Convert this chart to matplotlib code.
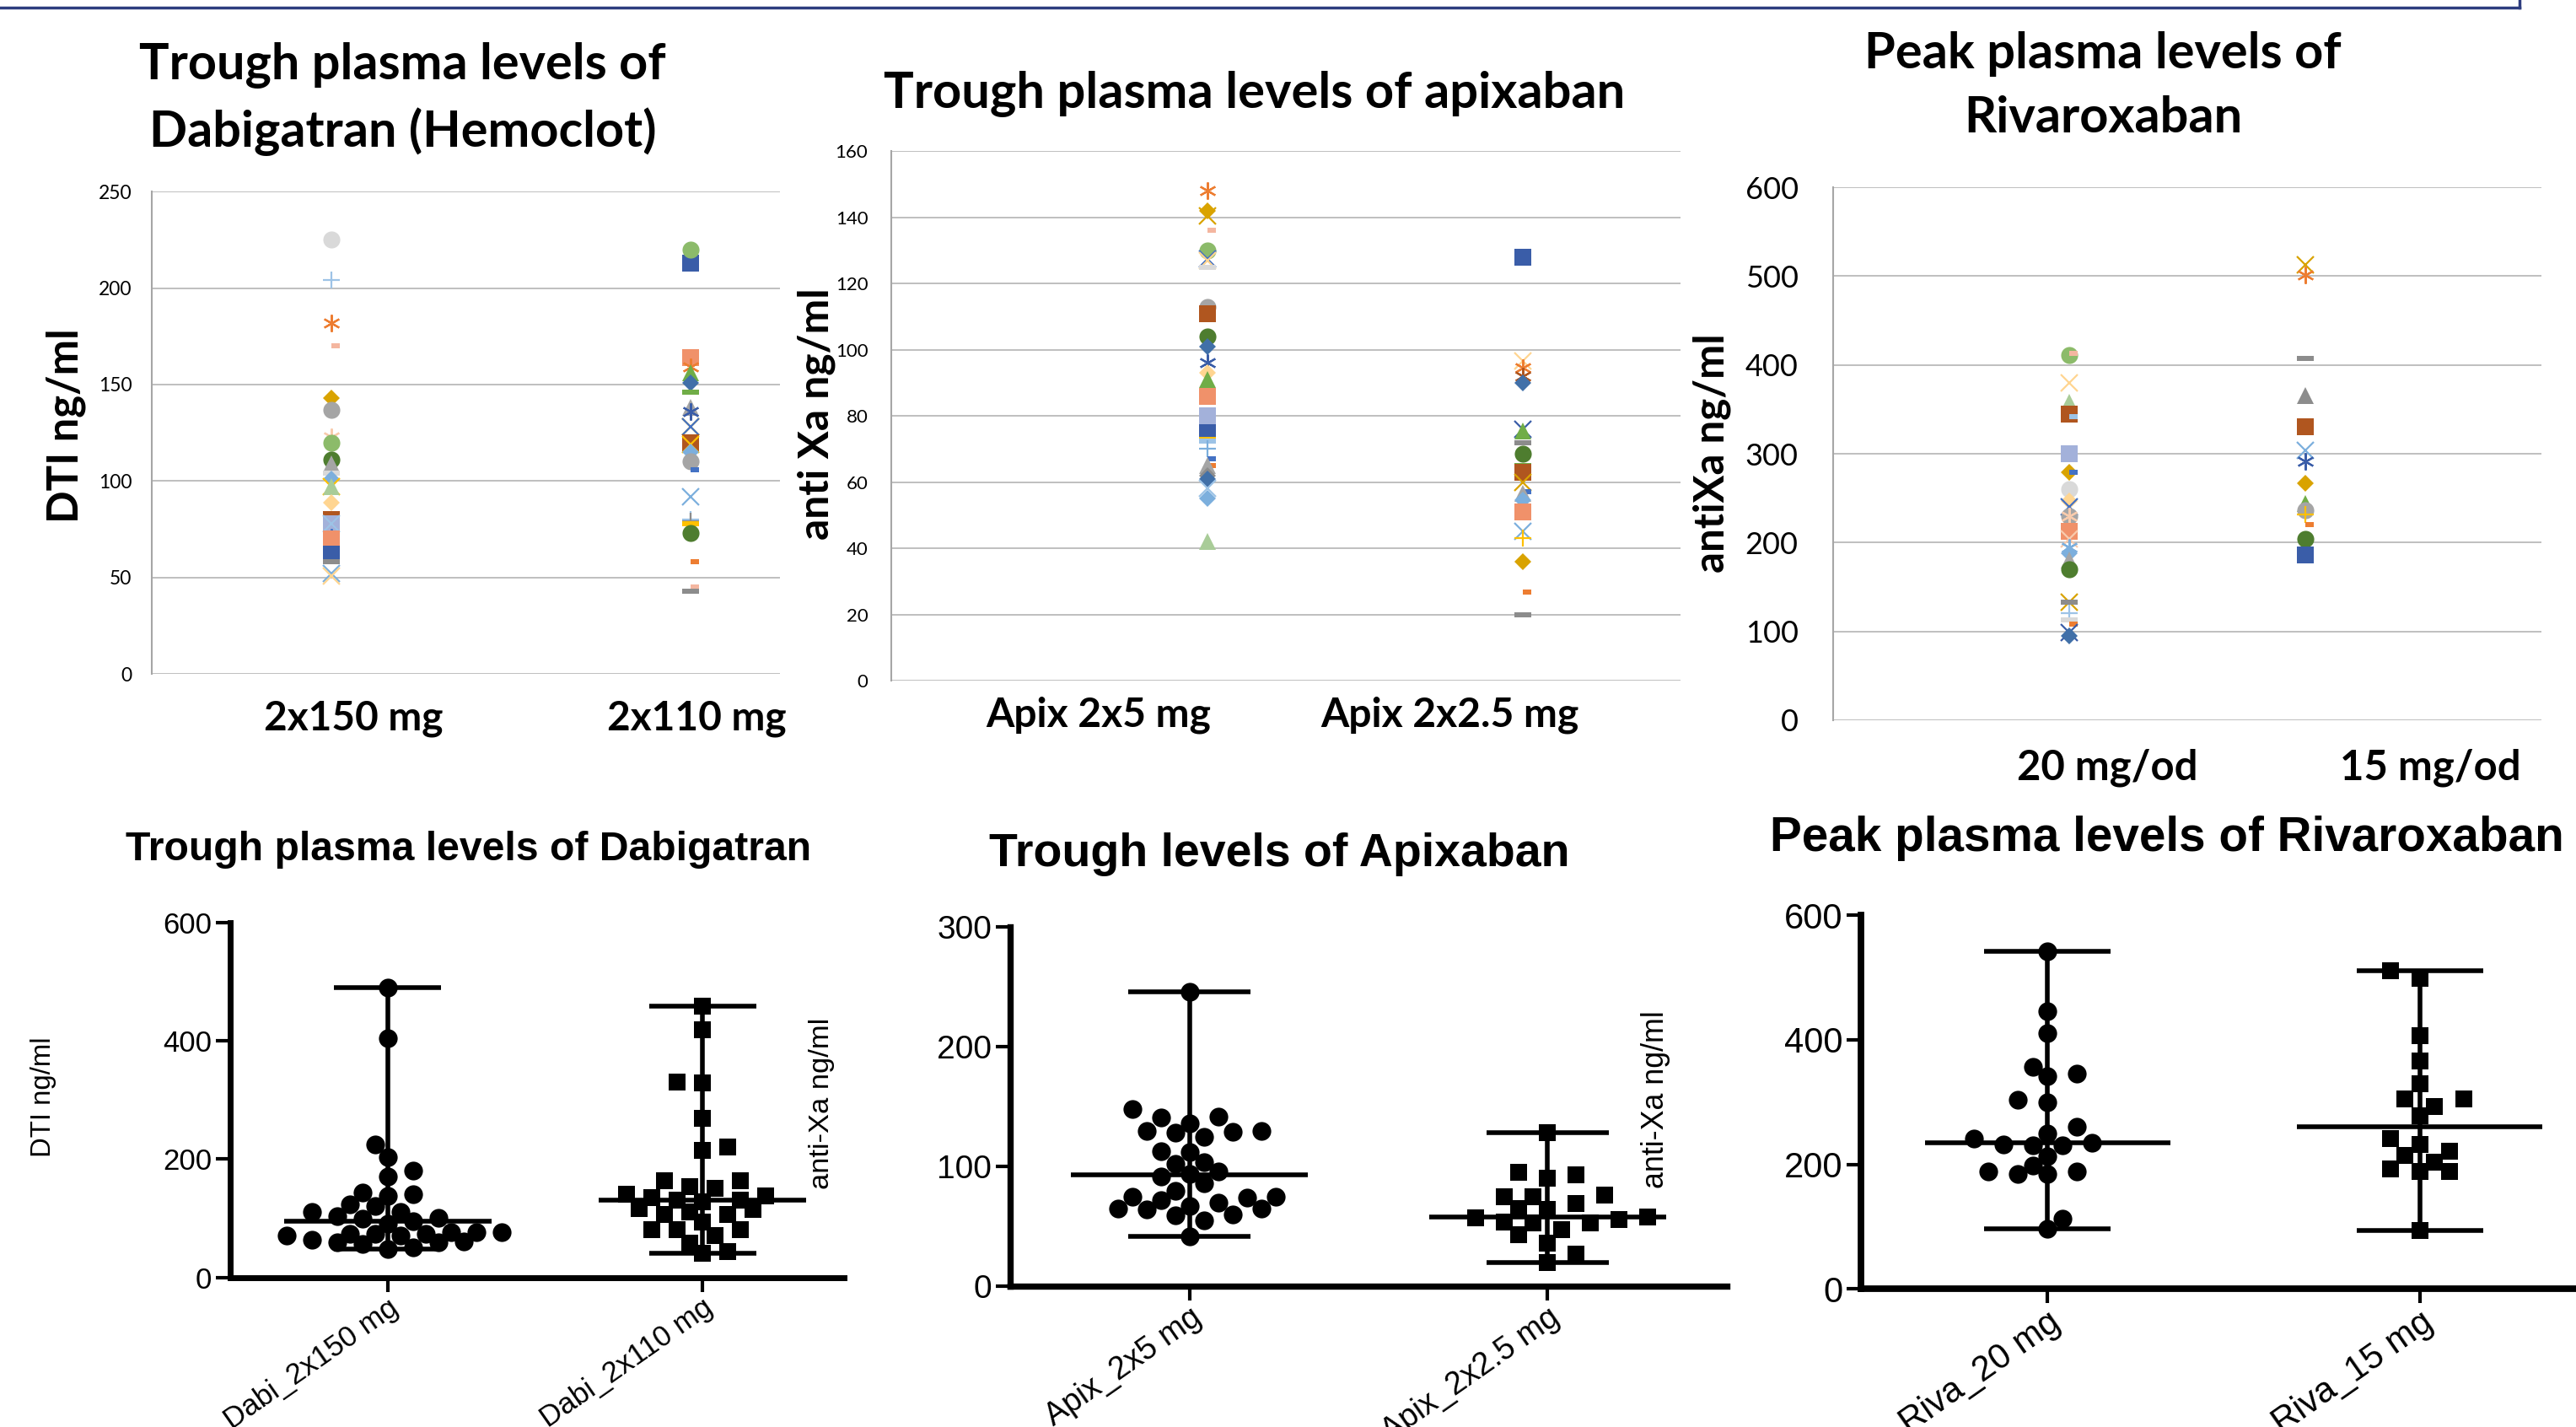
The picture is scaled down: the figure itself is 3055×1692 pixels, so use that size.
import matplotlib
matplotlib.use("Agg")
import matplotlib.pyplot as plt
import numpy as np
from matplotlib.lines import Line2D

# layout grid of the reference (the saved figure is 3055 x 1692 px)
W, H = 1568, 868
SCALE = 3055 / W

# ---- top row: per-patient values (Excel scatter) ----
dabi150_excel = [225, 204, 182, 170, 143, 137, 123, 120, 111, 109, 104, 101, 97, 97, 89, 83, 78, 78, 71, 70, 62, 58, 52, 51]
dabi110_excel = [213, 220, 164, 159, 156, 151, 146, 138, 136, 128, 128, 120, 119, 115, 110, 106, 92, 80, 79, 78, 73, 58, 45, 43]
apix5_excel = [148, 142, 140.5, 136, 130, 127.5, 127, 125, 113, 111, 104, 101, 96, 93, 91, 86, 80, 75, 73, 72.5,
               70, 67, 65, 65, 62, 61, 58, 55, 42]
apix25_excel = [128, 96.6, 94.5, 92, 90, 76, 75.5, 72, 68.7, 65, 63, 60, 57, 56.5, 54.6, 51, 45, 43, 36, 26.8, 20]
riva20_excel = [411, 413, 380, 358, 345, 342, 300, 279, 279, 260, 247, 240, 230, 230, 213, 204, 195, 188, 180, 170,
                133, 133, 120, 113, 108, 99, 95]
riva15_excel = [513, 501, 407, 366, 330, 304, 291, 267, 244, 236, 232, 220, 204, 186]

# ---- bottom row: per-patient values (dot plots with median and range) ----
dabi150 = [490, 404, 225, 203, 181, 170, 144, 141, 137, 120, 124, 110, 110, 101, 103, 95, 99, 90, 76, 74, 74, 70,
           70, 73, 76, 76, 63, 59, 56, 48, 51, 59, 61]
dabi110 = [458, 419, 328, 330, 269, 215, 220, 164, 164, 154, 151, 141, 135, 130, 127, 130, 137, 115, 110, 117, 107,
           107, 93, 80, 80, 70, 80, 58, 41, 43]
apix5 = [246, 148, 141, 136, 142, 130, 128, 130, 125, 129, 113, 112, 102, 104, 94, 92, 96, 86, 80, 75, 75, 72, 74,
         67, 70, 65, 65, 64, 59, 60, 55, 42]
apix25 = [128, 95, 93, 90, 75, 75, 76, 69, 64, 65, 56, 53, 58, 54, 53, 57, 47, 36, 43, 27, 20]
riva20 = [542, 446, 410, 357, 342, 345, 304, 300, 260, 249, 241, 235, 232, 230, 230, 213, 198, 189, 184, 184, 188,
          113, 97]
riva15 = [511, 499, 407, 366, 330, 305, 305, 293, 278, 242, 232, 221, 214, 204, 188, 188, 192, 94]

# ---- styles of the Excel series: marker/colour for each point ----
pal = {
    "bl": "#4472C4", "or": "#ED7D31", "gy": "#A5A5A5", "go": "#FFC000", "lb": "#7CAFDD", "gr": "#70AD47",
    "db": "#3A5DA8", "br": "#B0561F", "dg": "#8C8C8C", "dgo": "#D9A300", "mb": "#4170A8", "dgr": "#4E7D2F",
    "lg": "#D9D9D9", "sb": "#9DC3E6", "ps": "#F4B6A0", "pk": "#F8CBAD", "lgr": "#8CBB6A", "lgn": "#A9CC98",
    "ly": "#FFD591", "pb": "#A3B1DA", "sa": "#F0916A",
}
dabi150_marks = ["o/lg", "+/sb", "*/or", "-/ps", "D/dgo", "o/gy", "*/pk", "o/lgr", "o/dgr", "^/gy", "=/lg", "D/lb",
                 "x/go", "^/lgn", "D/ly", "=/br", "s/pb", "x/sb", "*/bl", "s/sa", "s/db", "=/dg", "x/lb", "x/ly"]
dabi110_marks = ["s/db", "o/lgr", "s/sa", "*/or", "^/gr", "D/mb", "=/gr", "^/gy", "*/db", "x/go", "x/bl", "s/br",
                 "x/go", "D/lb", "o/gy", "-/bl", "x/lb", "+/sb", "+/dg", "=/go", "o/dgr", "-/or", "-/ps", "=/dg"]
apix5_marks = ["*/or", "D/dgo", "x/dgo", "-/ps", "o/lgr", "x/bl", "x/ly", "=/lg", "o/gy", "s/br", "o/dgr", "D/mb",
               "*/db", "D/ly", "^/gr", "s/sa", "s/pb", "s/db", "=/go", "=/sb", "+/lb", "-/bl", "-/or", "^/gy",
               "D/dg", "D/mb", "x/sb", "D/lb", "^/lgn"]
apix25_marks = ["s/db", "x/ly", "*/or", "*/br", "D/mb", "x/db", "^/gr", "=/dg", "o/dgr", "=/gr", "s/br", "x/dgo",
                "-/bl", "^/gy", "D/lb", "s/sa", "x/lb", "+/go", "D/dgo", "-/or", "=/dg"]
riva20_marks = ["o/lgr", "-/ps", "x/ly", "^/lgn", "s/br", "-/sb", "s/pb", "D/dgo", "-/bl", "o/lg", "D/ly", "x/bl",
                "o/gy", "*/pk", "s/sa", "x/pk", "*/lb", "D/lb", "^/gy", "o/dgr", "x/dgo", "=/dg", "+/sb", "=/lg",
                "-/or", "x/db", "D/mb"]
riva15_marks = ["x/dgo", "*/or", "=/dg", "^/dg", "s/br", "x/lb", "*/db", "D/dgo", "^/gr", "o/gy", "+/go", "-/or",
                "o/dgr", "s/db"]

SHORT_DASH = [(0, -0.28), (1, -0.28), (1, 0.28), (0, 0.28)]
LONG_DASH = [(-1, -0.28), (1, -0.28), (1, 0.28), (-1, 0.28)]

plt.rcParams["font.family"] = ["Lato", "DejaVu Sans"]
fig = plt.figure(figsize=(30.55, 16.92), dpi=100)
renderer = fig.canvas.get_renderer()


def rect(left, top, right, bottom):
    return [left / W, 1 - bottom / H, (right - left) / W, (bottom - top) / H]


def put(x, y, s, width=None, size=20, rotation=0, **kw):
    """Place a text at reference coords; scale it to the measured width if given."""
    t = fig.text(x / W, 1 - y / H, s, ha="center", va="center", rotation=rotation, fontsize=size, **kw)
    if width:
        bb = t.get_window_extent(renderer)
        span = bb.height if rotation else bb.width
        t.set_fontsize(size * width * SCALE / span)
    return t.get_fontsize()


def excel_mark(ax, x, y, code):
    m, c = code.split("/")
    col = pal[c]
    if m in "x+*":
        marker = {"x": "x", "+": "+", "*": (6, 2, 0)}[m]
        ax.plot(x, y, marker=marker, ms=14.5, mew=1.6, color=col, ls="none", clip_on=False)
    else:
        marker = {"-": SHORT_DASH, "=": LONG_DASH}.get(m, m)
        ms = 10.5 if m == "D" else 14.5
        ax.plot(x, y, marker=marker, ms=ms, mew=0, color=col, ls="none", clip_on=False)


def excel_panel(box, ylim, step, xlim, positions, columns, marks, tick_size, tick_pad):
    ax = fig.add_axes(rect(*box))
    ax.set_xlim(xlim)
    ax.set_ylim(ylim)
    ax.set_yticks(np.arange(ylim[0], ylim[1] + 1, step))
    ax.set_xticks([])
    ax.yaxis.grid(True, color="#BFBFBF", lw=1.4)
    ax.set_axisbelow(True)
    for side in ["top", "right", "bottom"]:
        ax.spines[side].set_visible(False)
    ax.spines["left"].set_color("#A6A6A6")
    ax.spines["left"].set_linewidth(1.5)
    ax.tick_params(axis="y", length=0, labelsize=tick_size, pad=tick_pad)
    for pos, vals, sty in zip(positions, columns, marks):
        for v, code in zip(vals, sty):
            excel_mark(ax, pos, v, code)
    return ax


def swarm(ax, values, center, spacing, gap=10, diam=22):
    """Prism-like spread: slots every half spacing, nearest free slot to the centre."""
    n = len(values)
    disp = ax.transData.transform(np.column_stack([np.full(n, float(center)), values]))
    cx, ys = disp[0, 0], disp[:, 1]
    half = spacing / 2
    xs = np.zeros(n)
    placed = []
    right_first = True

    def hits(x, y):
        for px, py in placed:
            dx, dy = abs(x - px), abs(y - py)
            if (dx < spacing - 0.1 and dy < gap) or (dx < half - 0.1 and dy < 0.9 * diam):
                return True
        return False

    for i in np.argsort(ys, kind="stable"):
        k = 0
        while True:
            if k == 0:
                cands = [0.0]
            else:
                cands = [k * half, -k * half] if right_first else [-k * half, k * half]
            free = [c for c in cands if not hits(c, ys[i])]
            if free:
                xs[i] = free[0]
                if k:
                    right_first = not right_first
                break
            k += 1
        placed.append((xs[i], ys[i]))
    return ax.transData.inverted().transform(np.column_stack([cx + xs, ys]))[:, 0]


def prism_panel(box, ymax, step, xmax, names, columns, markers, tick_size, xlabel_size, spine_w, spacing):
    ax = fig.add_axes(rect(*box))
    ax.set_xlim(-0.5, xmax)
    ax.set_ylim(0, ymax)
    ax.set_yticks(np.arange(0, ymax + 1, step))
    ax.set_xticks(range(len(names)))
    ax.set_xticklabels(names, rotation=35, ha="right", va="top", rotation_mode="anchor",
                       family="Liberation Sans", fontsize=xlabel_size)
    for lab in ax.get_yticklabels():
        lab.set_family("Liberation Sans")
    for side in ["top", "right"]:
        ax.spines[side].set_visible(False)
    for side in ["left", "bottom"]:
        ax.spines[side].set_linewidth(spine_w)
    ax.tick_params(direction="out", length=12, width=3, labelsize=tick_size, pad=4)
    ax.tick_params(axis="x", labelsize=xlabel_size, pad=2)
    for i, (vals, m) in enumerate(zip(columns, markers)):
        ms = 16 if m == "o" else 14.5
        xs = swarm(ax, vals, i, spacing)
        ax.plot(xs, vals, m, color="black", ms=ms, mew=0, ls="none", clip_on=False, zorder=3)
        med, lo, hi = np.median(vals), min(vals), max(vals)
        ax.plot([i, i], [lo, hi], color="black", lw=4, zorder=2, solid_capstyle="butt")
        for y, half in [(lo, 0.17), (hi, 0.17), (med, 0.33)]:
            ax.plot([i - half, i + half], [y, y], color="black", lw=4, zorder=2, solid_capstyle="butt")
    return ax


# ---- top row (Excel) ----
excel_panel((92.4, 116.5, 475, 410), (0, 250), 50, (0, 3.5), [1, 3],
            [dabi150_excel, dabi110_excel], [dabi150_marks, dabi110_marks], 16.5, 17)
excel_panel((542.6, 92, 1023, 414), (0, 160), 20, (0, 2.5), [1, 2],
            [apix5_excel, apix25_excel], [apix5_marks, apix25_marks], 16, 20)
excel_panel((1116, 114, 1547, 438), (0, 600), 100, (0, 3), [1, 2],
            [riva20_excel, riva15_excel], [riva20_marks, riva15_marks], 26, 30)

fs = put(245, 40, "Trough plasma levels of", 320, weight="bold")
put(245, 80, "Dabigatran (Hemoclot)", size=fs, weight="bold")
put(763.5, 57, "Trough plasma levels of apixaban", 451, weight="bold")
fs = put(1280, 33, "Peak plasma levels of", 290, weight="bold")
put(1280, 72, "Rivaroxaban", size=fs, weight="bold")

fs = put(215, 437, "2x150 mg", 109, weight="bold")
put(424, 437, "2x110 mg", size=fs, weight="bold")
fs = put(668.5, 435, "Apix 2x5 mg", 137, weight="bold")
put(882.5, 435, "Apix 2x2.5 mg", size=fs, weight="bold")
fs = put(1283, 467, "20 mg/od", 110, weight="bold")
put(1479.5, 467, "15 mg/od", size=fs, weight="bold")

put(40, 259, "DTI ng/ml", 118, rotation=90, weight="bold")
put(497, 251.5, "anti Xa ng/ml", 153, rotation=90, weight="bold")
put(1042, 275.5, "antiXa ng/ml", 145, rotation=90, weight="bold")

# ---- bottom row (dot plots) ----
prism_panel((140.2, 561, 513.8, 777), 600, 200, 1.45, ["Dabi_2x150 mg", "Dabi_2x110 mg"],
            [dabi150, dabi110], ["o", "s"], 25, 25, 5, 30)
prism_panel((615, 564, 1051, 782.4), 300, 100, 1.5, ["Apix_2x5 mg", "Apix_2x2.5 mg"],
            [apix5, apix25], ["o", "s"], 28, 27, 5.3, 34)
prism_panel((1133, 556.7, 1568, 784), 600, 200, 1.42, ["Riva_20 mg", "Riva_15 mg"],
            [riva20, riva15], ["o", "s"], 30, 30, 5.6, 35)

put(285, 517, "Trough plasma levels of Dabigatran", 416, weight="bold", family="Liberation Sans")
put(779, 519.5, "Trough levels of Apixaban", 352.7, weight="bold", family="Liberation Sans")
put(1319, 510, "Peak plasma levels of Rivaroxaban", 482.6, weight="bold", family="Liberation Sans")

put(26.4, 667, "DTI ng/ml", 73, rotation=90, family="Liberation Sans")
put(500, 671, "anti-Xa ng/ml", 104, rotation=90, family="Liberation Sans")
put(1008, 668.6, "anti-Xa ng/ml", 108, rotation=90, family="Liberation Sans")

# frame edge of the slide box above
edge_x, edge_y = 2988 / 3055, 1 - 9 / 1692
fig.add_artist(Line2D([0, edge_x], [edge_y, edge_y], transform=fig.transFigure, color="#2E3D7F", lw=2.5))
fig.add_artist(Line2D([edge_x, edge_x], [edge_y, 1], transform=fig.transFigure, color="#2E3D7F", lw=2.5))

fig.savefig("out.png", dpi=100)
